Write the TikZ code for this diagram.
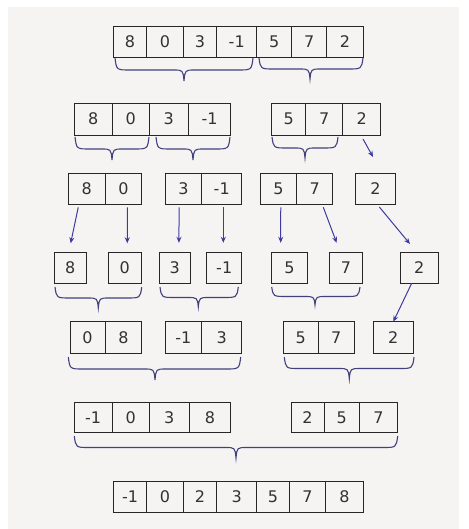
\documentclass[tikz,border=0pt]{standalone}
\usepackage{fontspec}
\setmainfont{DejaVu Sans}
\usetikzlibrary{arrows.meta}
\definecolor{bg}{RGB}{245,244,242}
\definecolor{txt}{RGB}{50,50,50}
\definecolor{brc}{RGB}{65,65,125}
\definecolor{arr}{RGB}{60,60,160}
\tikzset{
  cellbox/.style={draw=black!85, line width=0.9pt, inner sep=0pt, outer sep=0pt,
    anchor=north west, text=txt, font=\fontsize{16}{16}\selectfont},
  bracepath/.style={draw=brc, line width=1.1pt},
  arrline/.style={draw=arr, line width=1pt, -{Stealth[length=6pt,width=5pt]}}
}
% \cb{name}{x1}{x2}{y1}{y2}{text}
\newcommand\cb[6]{\node[cellbox, minimum width={#3-#2}, minimum height={#5-#4}] (#1) at (#2,#4) {#6};}
% \brc{x1}{x2}{xt}{ytop}{ytip}
\newcommand\brc[5]{%
  \pgfmathsetmacro\ym{(#4+#5)/2+0.5}%
  \draw[bracepath] (#1,#4) .. controls (#1+1.5,\ym) .. (#1+15,\ym)
    -- (#3-11,\ym) .. controls (#3-1,\ym) .. (#3,#5)
    .. controls (#3+1,\ym) .. (#3+11,\ym)
    -- (#2-15,\ym) .. controls (#2-1.5,\ym) .. (#2,#4);}
\begin{document}
\begin{tikzpicture}[x=1pt,y=-1pt]
\fill[white] (0,0) rectangle (468,529);
\fill[bg] (8,7) rectangle (459,529);
\useasboundingbox (0,0) rectangle (468,529);
% row 1
\cb{a1}{113.3}{146.7}{26}{57.3}{8}
\cb{a2}{146.7}{183.3}{26}{57.3}{0}
\cb{a3}{183.3}{216.7}{26}{57.3}{3}
\cb{a4}{216.7}{256.7}{26}{57.3}{-1}
\cb{a5}{256.7}{291.7}{26}{57.3}{5}
\cb{a6}{291.7}{326.7}{26}{57.3}{7}
\cb{a7}{326.7}{363.3}{26}{57.3}{2}
\brc{115}{253}{184}{58}{81}
\brc{259}{363}{310}{58}{79}
% row 2
\cb{b1}{74}{112.3}{103}{135}{8}
\cb{b2}{112.3}{149.3}{103}{135}{0}
\cb{b3}{149.3}{188.3}{103}{135}{3}
\cb{b4}{188.3}{230.7}{103}{135}{-1}
\cb{b5}{271.7}{305.7}{103}{135}{5}
\cb{b6}{305.7}{342.7}{103}{135}{7}
\cb{b7}{342.7}{380.7}{103}{135}{2}
\brc{75}{149}{112}{137}{160}
\brc{156}{230}{193}{137}{160}
\brc{272}{338}{305}{137}{158}
% row 3
\cb{c1}{68.3}{105}{173.3}{204}{8}
\cb{c2}{105}{141.7}{173.3}{204}{0}
\cb{c3}{165}{201.7}{173.3}{204}{3}
\cb{c4}{201.7}{241.7}{173.3}{204}{-1}
\cb{c5}{260}{296.7}{173.3}{204}{5}
\cb{c6}{296.7}{332.7}{173.3}{204}{7}
\cb{c7}{355}{395.7}{173.3}{204}{2}
% row 4
\cb{d1}{54.3}{86}{252.3}{283.3}{8}
\cb{d2}{108.3}{141}{252.3}{283.3}{0}
\cb{d3}{159.3}{190}{252.3}{283.3}{3}
\cb{d4}{206.7}{241.7}{252.3}{283.3}{-1}
\cb{d5}{271.7}{307.3}{252.3}{283.3}{5}
\cb{d6}{329}{362.7}{252.3}{283.3}{7}
\cb{d7}{400}{438.3}{252.3}{283.3}{2}
\brc{55}{141.7}{98.3}{287}{308}
\brc{160}{238.3}{198.3}{287}{307}
\brc{271.7}{360}{315}{287}{305}
% row 5
\cb{e1}{70}{105}{321.7}{353.3}{0}
\cb{e2}{105}{141.7}{321.7}{353.3}{8}
\cb{e3}{165}{201.7}{321.7}{353.3}{-1}
\cb{e4}{201.7}{241.7}{321.7}{353.3}{3}
\cb{e5}{283.3}{318.3}{321.7}{353.3}{5}
\cb{e6}{318.3}{354}{321.7}{353.3}{7}
\cb{e7}{373.3}{413.3}{321.7}{353.3}{2}
\brc{68.3}{240.7}{155}{357}{380}
\brc{284.3}{414}{349.3}{357}{379}
% row 6
\cb{f1}{74}{112.3}{402.3}{432.3}{-1}
\cb{f2}{112.3}{149.3}{402.3}{432.3}{0}
\cb{f3}{149.3}{189}{402.3}{432.3}{3}
\cb{f4}{189}{230.7}{402.3}{432.3}{8}
\cb{f5}{291}{324}{402.3}{432.3}{2}
\cb{f6}{324}{359.3}{402.3}{432.3}{5}
\cb{f7}{359.3}{397.7}{402.3}{432.3}{7}
\brc{74.3}{397.7}{236}{436}{458}
% row 7
\cb{g1}{113.3}{146.7}{481}{512.7}{-1}
\cb{g2}{146.7}{183.3}{481}{512.7}{0}
\cb{g3}{183.3}{216.7}{481}{512.7}{2}
\cb{g4}{216.7}{256.7}{481}{512.7}{3}
\cb{g5}{256.7}{289.3}{481}{512.7}{5}
\cb{g6}{289.3}{325.7}{481}{512.7}{7}
\cb{g7}{325.7}{363.3}{481}{512.7}{8}
% arrows
\draw[arrline] ([xshift=1.3pt,yshift=-4pt]b7.south) -- ([xshift=-2.3pt,yshift=16.3pt]c7.north);
\draw[arrline] ([xshift=-8.4pt,yshift=-3.3pt]c1.south) -- ([xshift=0.5pt,yshift=9pt]d1.north);
\draw[arrline] ([xshift=4pt,yshift=-3.3pt]c2.south) -- ([xshift=2.6pt,yshift=9pt]d2.north);
\draw[arrline] ([xshift=-4.3pt,yshift=-3.3pt]c3.south) -- ([xshift=4.3pt,yshift=9.5pt]d3.north);
\draw[arrline] ([xshift=1.6pt,yshift=-3.3pt]c4.south) -- ([xshift=-0.9pt,yshift=9.5pt]d4.north);
\draw[arrline] ([xshift=2.4pt,yshift=-3.3pt]c5.south) -- ([xshift=-8.8pt,yshift=9.5pt]d5.north);
\draw[arrline] ([xshift=8.6pt,yshift=-3.3pt]c6.south) -- ([xshift=-9.2pt,yshift=9.5pt]d6.north);
\draw[arrline] ([xshift=4pt,yshift=-3pt]c7.south) -- ([xshift=-9.2pt,yshift=8.3pt]d7.north);
\draw[arrline] ([xshift=-7.5pt]d7.south) -- ([xshift=0pt]e7.north);
\end{tikzpicture}
\end{document}
